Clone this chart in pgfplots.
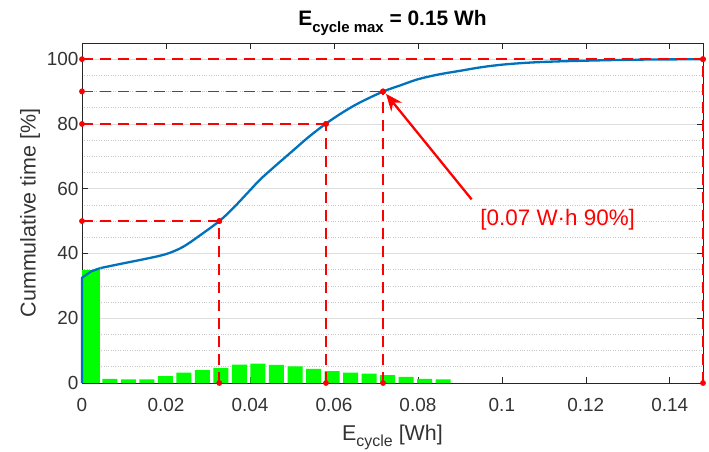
\documentclass[border=0pt]{standalone}
\usepackage{pgfplots}
\pgfplotsset{compat=1.18}
\usepackage{fontspec}
\setmainfont{Liberation Sans}
\usetikzlibrary{arrows.meta}
\definecolor{mblue}{HTML}{0072BD}
\definecolor{mgreen}{HTML}{00FF00}
\definecolor{mred}{HTML}{FF0000}
\definecolor{axgray}{HTML}{262626}
\definecolor{txtgray}{HTML}{333333}
\pgfplotsset{refline/.style={draw=mred, line width=1.7bp, dash pattern=on 11bp off 7bp, mark=*, mark size=2bp, mark options={solid, fill=mred, draw=mred}}}
\begin{document}
\begin{tikzpicture}
\begin{axis}[
  scale only axis, width=621bp, height=340bp,
  xmin=0, xmax=0.1479, ymin=0, ymax=105,
  clip=false,
  axis line style={axgray, line width=0.7bp},
  tick style={axgray, line width=0.7bp},
  major tick length=6bp,
  minor tick length=0pt,
  tick align=inside,
  xtick={0,0.02,0.04,0.06,0.08,0.1,0.12,0.14},
  xticklabels={0,0.02,0.04,0.06,0.08,0.1,0.12,0.14},
  ytick={0,20,40,60,80,100},
  minor ytick={5,10,15,25,30,35,45,50,55,65,70,75,85,90,95},
  ymajorgrids, yminorgrids,
  major grid style={solid, color=black!13, line width=0.7bp},
  minor grid style={dotted, color=black!22, line width=0.7bp},
  /pgf/number format/assume math mode=true,
  ticklabel style={font=\fontsize{19}{22}\selectfont, text=txtgray},
  xticklabel style={yshift=-12bp},
  xlabel={E\raisebox{-0.55ex}{\fontsize{16}{18}\selectfont cycle} [Wh]},
  xlabel style={yshift=-6bp},
  ylabel={Cummulative time [\%]},
  label style={font=\fontsize{21.5}{25}\selectfont, text=txtgray},
  title={\textbf{E\raisebox{-0.6ex}{\fontsize{15}{17}\selectfont\bfseries cycle max} = 0.15 Wh}},
  title style={font=\fontsize{21}{25}\selectfont, text=black, yshift=-2bp},
]
% histogram
\addplot[ybar, bar width=0.0042, bar shift=0pt, fill=mgreen, draw=none] coordinates {(0.0021,35)};
\addplot[ybar, bar width=0.00357, bar shift=0pt, fill=mgreen, draw=none] coordinates {
(0.00662,1.24) (0.01103,1.1) (0.01544,1.1) (0.01985,2.1) (0.02426,3.2)
(0.02868,4.0) (0.03309,4.7) (0.03750,5.7) (0.04191,6.0) (0.04632,5.6)
(0.05074,5.1) (0.05515,4.4) (0.05956,3.7) (0.06397,3.2) (0.06838,2.9)
(0.07279,2.4) (0.07721,1.9) (0.08162,1.3) (0.08603,1.1)};
% cumulative curve
\addplot[mblue, line width=2.3bp, line join=round] coordinates {
(0,0) (0,32.5) (0.0022,34.5) (0.0044,35.5)};
\addplot[mblue, line width=2.3bp, line join=round, smooth, tension=0.55] coordinates {
(0.0044,35.5) (0.01,37) (0.015,38.3) (0.02,39.8)
(0.024,42) (0.028,45.5) (0.0327,50) (0.036,54) (0.04,59.5) (0.0424,62.8)
(0.046,67) (0.05,71.5) (0.054,76) (0.058,80) (0.062,83.5) (0.066,86.5)
(0.0717,90) (0.076,92) (0.08,93.8) (0.085,95.3) (0.09,96.4) (0.095,97.5)
(0.1,98.3) (0.106,98.9) (0.113,99.3) (0.122,99.6) (0.132,99.85) (0.1479,100)};
% reference dashed lines
\addplot[refline] coordinates {(0,100) (0.1479,100)};
\addplot[refline] coordinates {(0,80) (0.0581,80)};
\addplot[refline] coordinates {(0,50) (0.0327,50)};
\addplot[refline] coordinates {(0.0327,0) (0.0327,50)};
\addplot[refline] coordinates {(0.0581,0) (0.0581,80)};
\addplot[refline] coordinates {(0.0717,0) (0.0717,90)};
\addplot[refline] coordinates {(0.1479,0) (0.1479,100)};
% arrow
\addplot[draw=mred, line width=2.3bp, -{Stealth[length=17bp,width=14bp]}] coordinates {(0.0928,56.7) (0.0724,89.3)};
\node[text=mred, font=\fontsize{22.5}{26}\selectfont] at (axis cs:0.1133,50.5) {[0.07 W·h 90\%]};
\addplot[draw=mred, line width=1.8bp, dash pattern=on 11bp off 7bp, mark=*, mark size=2bp, mark options={solid, fill=mred, draw=mred}] coordinates {(0,90.05) (0.0717,90.05)};
\end{axis}
\pgfresetboundingbox
\path[use as bounding box] ([shift={(-82bp,-69bp)}]current axis.south west) rectangle ([shift={(6bp,43bp)}]current axis.north east);
\end{tikzpicture}
\end{document}
